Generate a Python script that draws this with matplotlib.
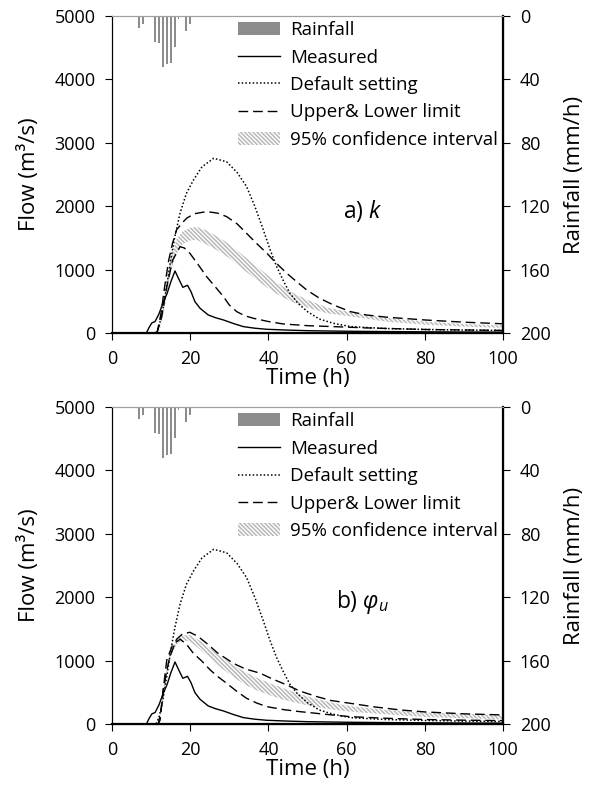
import numpy as np
import matplotlib
matplotlib.use('Agg')
import matplotlib.pyplot as plt

plt.rcParams['font.family'] = ['Open Sans', 'DejaVu Sans']
plt.rcParams['mathtext.fontset'] = 'custom'
plt.rcParams['mathtext.rm'] = 'Open Sans'
plt.rcParams['mathtext.it'] = 'Open Sans:italic'
plt.rcParams['hatch.linewidth'] = 1.1

# Rainfall (mm/h), hourly
rain_t = np.arange(0, 41)
rain = [0.4, 0.4, 0.4, 0, 0, 0, 0, 7.8, 5.0, 0, 0, 16.2, 17.2, 32.0, 30.3, 29.9, 19.8, 2.1, 0, 9.3,
        5.0, 0, 0, 0, 0, 0, 0.5, 0, 0, 0.5, 0, 0, 0, 0, 0, 0, 0, 0, 0.5, 0, 0]

# Measured flow (same in both panels)
meas_t = [0, 8.8, 9.5, 10.2, 11.0, 12, 13, 14.1, 15, 16.1, 17, 18.1, 19.3, 20.2, 21.2, 22.5, 24.6, 26.5,
          28.5, 31, 33.6, 36.5, 39.6, 45, 50, 60, 70, 80, 90, 100]
meas_q = [0, 0, 90, 160, 180, 300, 470, 626, 800, 978, 860, 720, 752, 650, 494, 390, 284, 240,
          205, 150, 100, 75, 58, 45, 36, 27, 22, 18, 15, 13]

# Default setting (same in both panels)
def_t = [0, 11.2, 12, 13, 14, 15, 16, 17.4, 19, 20.8, 23, 26, 29.3, 32, 34.4, 36.5, 38.7, 40.5, 42.1,
         44, 45.5, 47.5, 50, 53, 56.6, 61, 70, 80, 90, 100]
def_q = [0, 0, 100, 380, 750, 1150, 1500, 1890, 2200, 2410, 2620, 2755, 2700, 2530, 2310, 2000, 1625,
         1300, 1046, 800, 626, 470, 336, 220, 153, 100, 70, 55, 45, 40]

# Panel a) k
up_a_t = [0, 11.5, 12.5, 13.5, 14.5, 15.5, 16.5, 18, 19.1, 21, 24.2, 27, 29.3, 32, 34.4, 37, 39.6, 42,
          44.7, 47, 49.8, 53, 56.6, 61, 65, 70, 80, 90, 100]
up_a_q = [0, 0, 300, 750, 1150, 1420, 1625, 1740, 1810, 1880, 1914, 1890, 1835, 1720, 1572, 1410, 1257,
          1100, 941, 820, 678, 550, 442, 336, 284, 250, 205, 170, 145]
lo_a_t = [0, 11.5, 12.7, 14, 15.5, 17.4, 18.5, 19.9, 22, 24.2, 26.5, 28.5, 30, 31.9, 34, 36.2, 40, 43.8,
          50, 56.6, 65, 80, 100]
lo_a_q = [0, 0, 257, 730, 1150, 1361, 1340, 1257, 1080, 888, 720, 573, 440, 336, 270, 231, 180, 142,
          115, 100, 80, 55, 40]
ci_a_t = [12, 13, 14, 15, 16.5, 18, 20, 21.7, 24, 27, 30, 34, 38, 42, 46, 50, 55, 60, 70, 80, 90, 100]
ci_a_hi = [0, 350, 800, 1200, 1480, 1600, 1660, 1670, 1620, 1520, 1400, 1200, 1000, 800, 640, 520, 400,
           340, 240, 180, 140, 120]
ci_a_lo = [0, 250, 600, 950, 1250, 1400, 1460, 1467, 1400, 1300, 1180, 980, 790, 620, 490, 400, 310,
           270, 180, 130, 100, 80]

# Panel b) phi_u
up_b_t = [0, 11.8, 12.3, 13.1, 14, 14.8, 16.5, 18, 19.9, 22, 24.2, 27, 31, 34, 37.9, 41, 44.7, 48, 52.4,
          56, 60.9, 67, 73.7, 80, 90, 100]
up_b_q = [0, 0, 63, 536, 850, 1062, 1336, 1420, 1446, 1380, 1272, 1120, 957, 870, 800, 710, 615, 520,
          431, 370, 326, 270, 221, 190, 160, 142]
lo_b_t = [0, 11.8, 12.5, 13.2, 14, 15.5, 17.4, 19, 20.8, 23, 25.1, 27, 29.3, 32, 34.4, 37, 39.6, 44,
          48.1, 55, 60.9, 70, 80, 90, 100]
lo_b_q = [0, 0, 200, 600, 1009, 1250, 1336, 1260, 1115, 990, 852, 750, 642, 510, 405, 330, 273, 225,
          194, 150, 115, 90, 70, 60, 52]
ci_b_t = [12, 13, 14, 15, 16.5, 18, 20, 22, 25, 28, 31, 34, 37, 40, 44, 48, 52, 56, 60, 70, 80, 90, 100]
ci_b_hi = [0, 450, 900, 1180, 1340, 1400, 1400, 1330, 1200, 1060, 930, 820, 730, 650, 560, 470, 400,
           340, 290, 220, 180, 160, 140]
ci_b_lo = [0, 350, 780, 1060, 1250, 1320, 1300, 1200, 1040, 880, 740, 620, 530, 460, 380, 320, 270,
           230, 200, 150, 110, 90, 70]

panels = [
    ('a) $k$', up_a_t, up_a_q, lo_a_t, lo_a_q, ci_a_t, ci_a_hi, ci_a_lo),
    (r'b) $\varphi_u$', up_b_t, up_b_q, lo_b_t, lo_b_q, ci_b_t, ci_b_hi, ci_b_lo),
]

fig = plt.figure(figsize=(5.96, 7.96), dpi=100)
rects = [[0.188, 0.5817, 0.656, 0.3983], [0.188, 0.0905, 0.656, 0.3982]]

for rect, (tag, ut, uq, lt, lq, ct, chi, clo) in zip(rects, panels):
    ax = fig.add_axes(rect)
    ax2 = ax.twinx()

    ci = ax.fill_between(ct, clo, chi, facecolor='none', edgecolor='#b8b8b8', hatch='\\' * 8,
                         linewidth=0, label='95% confidence interval')
    ln_m, = ax.plot(meas_t, meas_q, color='black', lw=1.0, label='Measured')
    ln_d, = ax.plot(def_t, def_q, color='black', lw=1.1, linestyle=(0, (1, 1.4)), label='Default setting')
    ln_u, = ax.plot(ut, uq, color='black', lw=1.0, linestyle=(0, (7, 3.5)), label='Upper& Lower limit')
    ax.plot(lt, lq, color='black', lw=1.0, linestyle=(0, (7, 3.5)))

    bars = ax2.bar(rain_t, rain, width=0.5, color='#8c8c8c', label='Rainfall')

    ax.set_xlim(0, 100)
    ax.set_ylim(0, 5000)
    ax.set_xticks(np.arange(0, 101, 20))
    ax.set_yticks(np.arange(0, 5001, 1000))
    ax2.set_ylim(200, 0)
    ax2.set_yticks(np.arange(0, 201, 40))

    for a in (ax, ax2):
        a.tick_params(direction='out', length=5, width=0.8, labelsize=13, pad=7)
        a.spines['top'].set_color('#a0a0a0')
    ax2.spines['right'].set_linewidth(1.6)
    ax.spines['bottom'].set_linewidth(1.6)

    ax.set_xlabel('Time (h)', fontsize=16, labelpad=0)
    ax.set_ylabel('Flow (m³/s)', fontsize=16, labelpad=10)
    ax2.set_ylabel('Rainfall (mm/h)', fontsize=16, labelpad=10)

    ax2.text(64, 0.385, tag, transform=ax2.get_xaxis_transform(), fontsize=16.5,
             ha='center', va='center')

    ax2.legend([bars, ln_m, ln_d, ln_u, ci],
               ['Rainfall', 'Measured', 'Default setting', 'Upper& Lower limit', '95% confidence interval'],
               loc='upper left', bbox_to_anchor=(0.322, 0.983), frameon=False, fontsize=13.5,
               borderpad=0, labelspacing=0.5, handlelength=2.24, handletextpad=0.55, borderaxespad=0)

fig.savefig('out.png', dpi=100)
